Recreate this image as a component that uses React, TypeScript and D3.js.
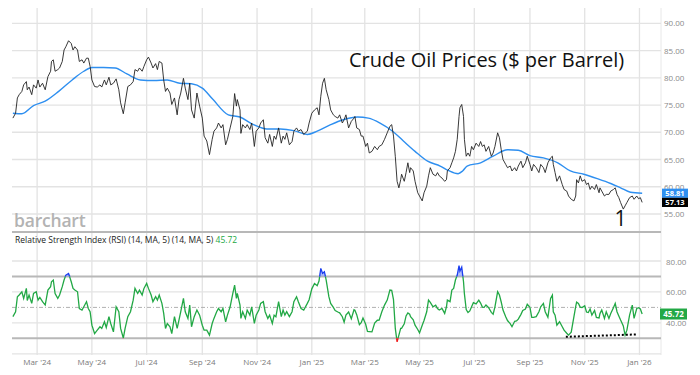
import React from 'react';
import * as d3 from 'd3';

// daily crude closes, grouped by month (day-of-month / close / RSI share the same layout)
const months = [
  '2024-02', '2024-03', '2024-04', '2024-05', '2024-06', '2024-07', '2024-08', '2024-09', '2024-10', '2024-11', '2024-12',
  '2025-01', '2025-02', '2025-03', '2025-04', '2025-05', '2025-06', '2025-07', '2025-08', '2025-09', '2025-10', '2025-11', '2025-12',
  '2026-01',
];
const days = [
  [3, 6, 8, 10, 13, 15, 18, 19, 21, 24, 26, 29],
  [2, 4, 7, 10, 13, 16, 17, 19, 21, 24, 26, 29, 31],
  [2, 5, 8, 10, 12, 15, 17, 20, 22, 25, 27, 29],
  [1, 4, 7, 10, 12, 15, 17, 20, 22, 25, 28, 31],
  [2, 5, 7, 10, 13, 16, 18, 21, 23, 26, 28],
  [1, 3, 6, 8, 11, 13, 15, 18, 20, 22, 24, 27, 29],
  [1, 4, 6, 8, 11, 13, 16, 18, 20, 23, 26, 29],
  [1, 3, 6, 9, 12, 14, 17, 19, 22, 24, 27, 29],
  [2, 5, 7, 9, 10, 13, 14, 16, 19, 21, 24, 26, 29, 31],
  [3, 5, 8, 10, 13, 15, 18, 20, 22, 25, 28, 30],
  [2, 4, 7, 10, 12, 15, 17, 20, 23, 27, 29],
  [1, 4, 7, 9, 11, 13, 15, 17, 20, 22, 25, 27, 30],
  [1, 4, 6, 8, 11, 14, 17, 18, 20, 23, 25, 27],
  [2, 4, 6, 9, 12, 15, 17, 20, 23, 26, 29, 31],
  [2, 4, 6, 8, 10, 11, 14, 16, 18, 20, 21, 24, 26, 29],
  [1, 4, 6, 9, 11, 13, 16, 19, 21, 23, 26, 29, 31],
  [1, 4, 6, 8, 10, 12, 14, 15, 17, 19, 20, 22, 24, 26, 28, 30],
  [3, 6, 8, 10, 12, 14, 17, 20, 22, 24, 27, 29, 31],
  [2, 5, 7, 10, 12, 15, 17, 19, 22, 24, 27, 29],
  [1, 3, 5, 8, 11, 13, 16, 18, 21, 24, 26, 27, 29],
  [1, 4, 7, 9, 12, 14, 17, 20, 22, 23, 25, 27, 29],
  [1, 3, 5, 7, 9, 12, 14, 17, 18, 20, 23, 25, 28, 30],
  [3, 5, 7, 9, 11, 14, 16, 18, 21, 24, 26, 29, 31],
  [2, 4],
];
const closes = [
  [72.6, 73.5, 76.3, 76.9, 77.5, 78.7, 79.3, 77.8, 78.3, 76.9, 78.7, 78.1],
  [79.6, 78.3, 79.0, 77.8, 80.2, 81.2, 83.0, 83.3, 81.2, 81.5, 81.8, 83.0, 85.1],
  [85.7, 86.8, 86.3, 85.1, 85.7, 85.1, 83.0, 83.3, 82.7, 83.6, 83.6, 82.1],
  [79.6, 78.4, 78.3, 78.7, 78.3, 79.6, 78.7, 80.1, 78.7, 79.0, 79.8, 77.8],
  [75.4, 73.4, 75.4, 78.4, 78.7, 79.3, 81.5, 81.2, 81.8, 81.2, 82.1],
  [83.3, 83.8, 82.7, 81.8, 82.6, 81.5, 83.0, 82.7, 79.6, 77.5, 78.1, 77.2, 75.1],
  [76.3, 73.2, 76.0, 77.2, 79.9, 78.1, 76.0, 79.0, 74.1, 72.6, 77.2, 74.8],
  [72.6, 69.3, 68.4, 65.9, 68.7, 70.2, 70.8, 71.7, 70.8, 71.4, 67.7, 68.7],
  [70.8, 72.9, 77.1, 74.8, 76.0, 74.1, 69.8, 71.4, 70.8, 71.4, 70.5, 71.7, 67.4, 70.2],
  [70.8, 71.7, 72.3, 69.0, 68.0, 69.6, 67.4, 69.3, 68.7, 70.8, 68.0, 69.3],
  [68.7, 69.9, 67.7, 68.3, 70.2, 70.8, 70.2, 70.5, 69.6, 70.2, 71.7],
  [73.5, 74.1, 74.5, 73.2, 76.6, 79.0, 79.9, 77.8, 76.0, 74.1, 73.2, 72.9, 72.6],
  [73.2, 71.7, 72.3, 73.2, 70.8, 72.0, 72.6, 72.9, 70.8, 70.5, 69.3, 69.3],
  [67.4, 68.0, 66.2, 66.5, 67.4, 66.8, 67.4, 67.7, 68.7, 69.9, 71.1, 71.4],
  [69.3, 65.6, 61.0, 59.8, 61.3, 62.3, 61.0, 62.6, 64.4, 62.6, 63.5, 62.9, 61.0, 58.9],
  [58.3, 57.4, 58.9, 60.1, 62.0, 63.5, 62.3, 62.0, 62.6, 62.0, 61.6, 61.0, 61.3],
  [62.9, 63.5, 64.4, 65.3, 66.5, 68.7, 72.9, 74.5, 75.1, 72.9, 68.7, 65.6, 66.2, 65.6, 67.4, 66.8],
  [68.0, 67.4, 68.3, 67.4, 67.7, 66.5, 67.4, 65.6, 66.2, 67.4, 69.9, 69.0, 66.8],
  [65.0, 64.1, 63.5, 63.8, 62.9, 63.5, 62.9, 63.8, 64.7, 63.5, 64.4, 65.6],
  [64.1, 62.9, 64.1, 63.5, 62.6, 64.1, 63.5, 62.6, 64.4, 65.3, 65.6, 64.1, 62.6],
  [61.0, 62.0, 60.4, 59.5, 59.2, 58.3, 57.7, 57.4, 58.3, 61.3, 60.7, 62.0, 61.0],
  [61.3, 60.4, 60.7, 59.5, 60.1, 59.5, 60.4, 58.9, 59.8, 59.2, 58.3, 58.6, 58.6, 59.2],
  [59.5, 59.8, 58.6, 58.0, 57.1, 55.9, 56.5, 57.1, 58.0, 58.3, 57.7, 58.3, 57.8],
  [58.0, 57.13],
];
const rsiValues = [
  [44.0, 47.2, 56.9, 58.0, 60.1, 55.8, 62.3, 54.5, 58.0, 52.6, 59.0, 60.1],
  [54.7, 56.5, 53.7, 51.5, 61.2, 63.4, 66.6, 67.7, 59.0, 55.8, 58.0, 63.4, 67.7],
  [70.9, 72.0, 66.6, 62.3, 61.2, 60.1, 49.3, 48.3, 50.4, 53.7, 49.3, 47.2],
  [38.5, 33.1, 35.3, 37.5, 36.4, 40.7, 37.0, 44.0, 39.6, 34.2, 50.4, 47.2],
  [36.4, 30.2, 36.4, 44.0, 47.2, 54.7, 62.3, 59.0, 61.2, 58.0, 62.3],
  [65.5, 62.3, 58.0, 53.7, 56.9, 54.7, 58.0, 52.6, 46.1, 36.4, 39.6, 37.5, 33.1],
  [44.0, 36.4, 41.8, 47.2, 55.8, 47.2, 42.9, 51.5, 37.5, 44.0, 48.3, 45.0],
  [38.5, 35.3, 35.3, 32.1, 39.6, 42.9, 47.2, 49.3, 47.2, 49.3, 40.7, 45.0],
  [50.4, 59.0, 64.4, 55.8, 59.0, 51.5, 42.9, 47.2, 42.9, 48.3, 45.0, 50.4, 39.6, 45.0],
  [48.3, 52.6, 53.7, 47.2, 42.9, 45.0, 39.6, 45.0, 44.0, 53.7, 44.0, 48.3],
  [45.0, 47.2, 44.0, 47.2, 53.7, 56.9, 53.7, 49.3, 48.3, 52.6, 55.0],
  [62.0, 65.5, 64.0, 67.0, 75.2, 72.0, 73.1, 67.7, 56.9, 52.6, 50.0, 48.0, 47.0],
  [46.5, 44.0, 40.5, 45.0, 47.0, 42.7, 48.5, 48.2, 45.3, 38.8, 40.1, 43.1],
  [39.1, 34.5, 34.4, 34.2, 39.8, 41.7, 41.8, 47.2, 51.5, 54.7, 61.2, 61.0],
  [55.0, 36.4, 27.7, 32.1, 36.4, 36.4, 39.4, 44.5, 46.4, 45.6, 44.0, 42.0, 38.5, 35.7],
  [33.5, 38.5, 41.5, 47.2, 54.7, 53.3, 50.4, 51.5, 49.3, 48.3, 49.3, 46.1, 50.4],
  [54.7, 53.7, 61.2, 62.3, 67.7, 70.9, 77.0, 73.5, 76.0, 66.6, 58.7, 48.6, 46.7, 47.7, 50.4, 53.1],
  [52.3, 54.7, 52.8, 50.2, 50.0, 51.6, 49.8, 46.8, 45.6, 50.4, 60.1, 58.0, 53.5],
  [48.3, 44.0, 41.5, 39.5, 37.5, 41.0, 41.2, 42.4, 45.5, 48.0, 49.0, 52.0],
  [50.0, 43.5, 43.5, 44.0, 47.2, 50.4, 52.6, 47.2, 43.6, 55.8, 58.0, 47.2, 45.0],
  [38.5, 40.7, 37.5, 35.3, 33.3, 32.1, 34.0, 44.0, 50.7, 53.4, 52.6, 50.2, 49.9],
  [51.0, 47.0, 46.7, 49.0, 45.0, 48.0, 43.5, 43.2, 46.0, 48.3, 42.9, 47.2, 42.9, 46.0],
  [49.8, 52.6, 47.2, 44.5, 41.8, 38.0, 32.1, 35.3, 45.0, 51.5, 42.9, 49.3, 49.8],
  [49.0, 45.72],
];

// moving average (blue) read at its turning points
const maDates = [
  '2024-02-03', '2024-02-13', '2024-02-26', '2024-03-10', '2024-03-25', '2024-04-09', '2024-04-22', '2024-05-01',
  '2024-05-14', '2024-05-27', '2024-06-09', '2024-06-24', '2024-07-09', '2024-07-24', '2024-08-07', '2024-08-20',
  '2024-09-01', '2024-09-13', '2024-09-30', '2024-10-13', '2024-10-28', '2024-11-12', '2024-11-27', '2024-12-12',
  '2024-12-27', '2025-01-07', '2025-01-22', '2025-02-05', '2025-02-21', '2025-03-05', '2025-03-18', '2025-04-01',
  '2025-04-13', '2025-04-26', '2025-05-10', '2025-05-24', '2025-06-02', '2025-06-13', '2025-06-18', '2025-06-23',
  '2025-07-08', '2025-07-22', '2025-08-07', '2025-08-19', '2025-09-01', '2025-09-16', '2025-10-02', '2025-10-16',
  '2025-10-31', '2025-11-15', '2025-11-30', '2025-12-11', '2025-12-22', '2026-01-04',
];
const maValues = [
  73.5, 73.4, 74.9, 75.7, 77.5, 79.6, 81.2, 81.9,
  81.9, 81.8, 80.7, 79.6, 79.5, 79.6, 79.0, 78.9,
  78.1, 76.0, 73.2, 72.8, 71.4, 70.6, 70.6, 70.3,
  69.6, 70.2, 71.4, 72.3, 72.8, 72.6, 71.7, 70.2,
  68.4, 66.5, 64.7, 63.8, 63.0, 62.4, 62.9, 63.8,
  64.4, 65.6, 66.8, 66.7, 65.7, 65.3, 64.4, 62.9,
  62.3, 61.5, 60.6, 59.8, 59.0, 58.81,
];

const priceTicks = [55, 60, 65, 70, 75, 80, 85, 90];
const rsiLabels = [40, 60, 80];
const rsiGrid = [20, 40, 60, 80];
const rsiBands = [30, 70];
const divergence: [string, number][] = [['2025-10-11', 31.0], ['2025-12-28', 32.5]];
const waveLabel: [string, number, string] = ['2025-12-11', 52.8, '1'];
const lastClose = 57.13;
const lastMa = 58.81;
const lastRsi = 45.72;

const W = 700;
const H = 375;
const FONT = "'Open Sans', 'Noto Sans', sans-serif";

export default function App() {
  const parse = d3.timeParse('%Y-%m-%d');
  const rows = months.flatMap((m, i) =>
    days[i].map((d, j) => ({
      date: parse(`${m}-${String(d).padStart(2, '0')}`) as Date,
      close: closes[i][j],
      rsi: rsiValues[i][j],
    }))
  );
  const maRows = maDates.map((d, i) => ({ date: parse(d) as Date, value: maValues[i] }));

  const x = d3.scaleTime().domain([new Date(2024, 1, 2), new Date(2026, 0, 25)]).range([12, 661]);
  const yP = d3.scaleLinear().domain([55, 90]).range([214, 23.3]);
  const yR = d3.scaleLinear().domain([20, 80]).range([353.8, 261]);

  const xTicks = x.ticks(d3.timeMonth.every(2) as d3.TimeInterval);
  const fmt = d3.timeFormat("%b '%y");

  const priceLine = d3.line<any>().x(d => x(d.date)).y(d => yP(d.close));
  const maLine = d3.line<any>().x(d => x(d.date)).y(d => yP(d.value)).curve(d3.curveMonotoneX);
  const rsiLine = d3.line<any>().x(d => x(d.date)).y(d => yR(d.rsi));
  const obArea = d3.area<any>().x(d => x(d.date)).y0(yR(70)).y1(d => yR(Math.max(d.rsi, 70)));
  const osArea = d3.area<any>().x(d => x(d.date)).y0(yR(30)).y1(d => yR(Math.min(d.rsi, 30)));

  const [x0, x1] = x.range();

  return (
    <svg width={W} height={H} style={{ position: 'absolute', left: 0, top: 0, display: 'block' }} fontFamily={FONT}>
      <defs>
        <clipPath id="ob"><rect x={0} y={0} width={W} height={yR(70)} /></clipPath>
        <clipPath id="mid"><rect x={0} y={yR(70)} width={W} height={yR(30) - yR(70)} /></clipPath>
        <clipPath id="os"><rect x={0} y={yR(30)} width={W} height={H - yR(30)} /></clipPath>
      </defs>
      <rect width={W} height={H} fill="#fff" />

      {/* vertical grid through both panels */}
      {xTicks.map(t => (
        <line key={+t} x1={x(t)} x2={x(t)} y1={8} y2={355} stroke="#e3e3e3" strokeWidth={1.3} />
      ))}
      <line x1={x1} x2={x1} y1={8} y2={355} stroke="#e8e8e8" />

      {/* price panel grid */}
      {priceTicks.map(v => (
        <line key={v} x1={x0} x2={x1} y1={yP(v)} y2={yP(v)} stroke="#e3e3e3" strokeWidth={1.3} />
      ))}
      <line x1={x0} x2={x1} y1={232} y2={232} stroke="#b8b8b8" strokeWidth={2} />

      <text x={14} y={227} fontSize={17.5} fontWeight={600} fill="#b3b3b3" letterSpacing={-0.2}>barchart</text>
      <text x={349} y={67} fontSize={20} fill="#111">Crude Oil Prices ($ per Barrel)</text>

      <path d={maLine(maRows) || ''} fill="none" stroke="#2e8ff0" strokeWidth={1.4} />
      <path d={priceLine(rows) || ''} fill="none" stroke="#222" strokeWidth={0.9} />

      <text x={x(parse(waveLabel[0]) as Date)} y={yP(waveLabel[1])} fontSize={21} fill="#111" textAnchor="middle">{waveLabel[2]}</text>

      {priceTicks.map(v => (
        <text key={v} x={664} y={yP(v) + 3} fontSize={8} fill="#8a8a8a">{v.toFixed(2)}</text>
      ))}
      <rect x={662} y={yP(lastMa) - 4.6} width={26} height={9.2} fill="#2e8ff0" />
      <text x={675} y={yP(lastMa) + 2.6} fontSize={7.5} fontWeight={700} fill="#fff" textAnchor="middle">{lastMa.toFixed(2)}</text>
      <rect x={662} y={yP(lastClose) - 4.6} width={26} height={9.2} fill="#000" />
      <text x={675} y={yP(lastClose) + 2.6} fontSize={7.5} fontWeight={700} fill="#fff" textAnchor="middle">{lastClose.toFixed(2)}</text>

      {/* RSI panel */}
      <text x={15} y={243} fontSize={8.5} fill="#222">
        Relative Strength Index (RSI) (14, MA, 5)  (14, MA, 5) <tspan fill="#22a845">{lastRsi.toFixed(2)}</tspan>
      </text>
      {rsiGrid.map(v => (
        <line key={v} x1={x0} x2={x1} y1={yR(v)} y2={yR(v)} stroke="#e3e3e3" strokeWidth={1.3} />
      ))}
      {rsiBands.map(v => (
        <line key={v} x1={x0} x2={x1} y1={yR(v)} y2={yR(v)} stroke="#b8b8b8" strokeWidth={2} />
      ))}
      <line x1={x0} x2={x1} y1={yR(50)} y2={yR(50)} stroke="#b0b0b0" strokeWidth={1} strokeDasharray="4,2,1,2" />

      <path d={obArea(rows) || ''} fill="#7f95f5" opacity={0.6} clipPath="url(#ob)" />
      <path d={osArea(rows) || ''} fill="#f58f8f" opacity={0.6} clipPath="url(#os)" />
      <path d={rsiLine(rows) || ''} fill="none" stroke="#22a845" strokeWidth={1.3} clipPath="url(#mid)" />
      <path d={rsiLine(rows) || ''} fill="none" stroke="#1a3df0" strokeWidth={1.3} clipPath="url(#ob)" />
      <path d={rsiLine(rows) || ''} fill="none" stroke="#f01a1a" strokeWidth={1.3} clipPath="url(#os)" />

      <line
        x1={x(parse(divergence[0][0]) as Date)} y1={yR(divergence[0][1])}
        x2={x(parse(divergence[1][0]) as Date)} y2={yR(divergence[1][1])}
        stroke="#000" strokeWidth={2} strokeDasharray="2,2"
      />

      {rsiLabels.map(v => (
        <text key={v} x={666} y={yR(v) + 3.5} fontSize={8} fill="#8a8a8a">{v.toFixed(2)}</text>
      ))}
      <rect x={660} y={yR(lastRsi) - 5.5} width={27} height={11} fill="#22a845" />
      <text x={673.5} y={yR(lastRsi) + 3} fontSize={8} fontWeight={700} fill="#fff" textAnchor="middle">{lastRsi.toFixed(2)}</text>

      {xTicks.map(t => (
        <text key={+t} x={x(t)} y={365} fontSize={8} fill="#7a7a7a" textAnchor="middle">{fmt(t)}</text>
      ))}
    </svg>
  );
}
